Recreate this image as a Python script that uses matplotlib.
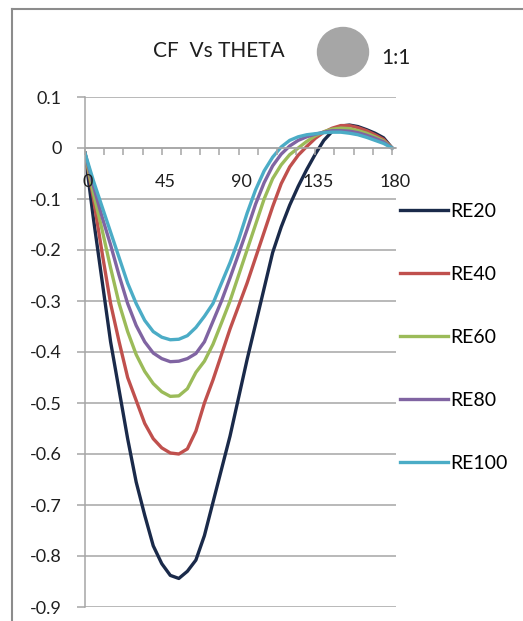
import matplotlib
matplotlib.use("Agg")
import matplotlib.pyplot as plt
import matplotlib.transforms as mtransforms
from matplotlib.patches import Ellipse
from matplotlib.lines import Line2D

plt.rcParams["font.family"] = ["Lato", "DejaVu Sans"]

theta = [0, 5, 10, 15, 20, 25, 30, 35, 40, 45, 50, 55, 60, 65, 70, 75, 80, 85, 90,
         95, 100, 105, 110, 115, 120, 125, 130, 135, 140, 145, 150, 155, 160, 165,
         170, 175, 180]

re20 = [-0.01, -0.14, -0.26, -0.38, -0.475, -0.57, -0.655, -0.72, -0.78, -0.815,
        -0.838, -0.844, -0.83, -0.808, -0.76, -0.695, -0.63, -0.565, -0.49, -0.415,
        -0.345, -0.275, -0.205, -0.155, -0.112, -0.075, -0.042, -0.012, 0.015,
        0.033, 0.043, 0.045, 0.042, 0.036, 0.029, 0.02, 0.0]
re40 = [-0.01, -0.1, -0.205, -0.305, -0.38, -0.45, -0.495, -0.54, -0.57, -0.588,
        -0.598, -0.6, -0.59, -0.555, -0.5, -0.455, -0.405, -0.355, -0.31, -0.265,
        -0.215, -0.165, -0.115, -0.07, -0.037, -0.014, 0.003, 0.019, 0.031, 0.039,
        0.044, 0.044, 0.04, 0.034, 0.026, 0.017, 0.0]
re60 = [-0.01, -0.09, -0.16, -0.235, -0.305, -0.36, -0.405, -0.438, -0.462, -0.478,
        -0.487, -0.486, -0.472, -0.44, -0.418, -0.385, -0.343, -0.3, -0.25, -0.2,
        -0.15, -0.1, -0.06, -0.033, -0.013, 0.0, 0.013, 0.024, 0.032, 0.037, 0.039,
        0.038, 0.034, 0.029, 0.022, 0.014, 0.0]
re80 = [-0.01, -0.075, -0.135, -0.19, -0.25, -0.305, -0.348, -0.38, -0.402, -0.413,
        -0.419, -0.418, -0.413, -0.403, -0.38, -0.34, -0.3, -0.255, -0.208, -0.16,
        -0.11, -0.068, -0.035, -0.012, 0.004, 0.015, 0.022, 0.027, 0.031, 0.034,
        0.034, 0.033, 0.03, 0.025, 0.019, 0.012, 0.0]
re100 = [-0.01, -0.065, -0.115, -0.165, -0.215, -0.265, -0.305, -0.338, -0.36,
         -0.371, -0.376, -0.375, -0.368, -0.352, -0.33, -0.305, -0.265, -0.225,
         -0.18, -0.128, -0.082, -0.045, -0.018, 0.002, 0.015, 0.022, 0.026, 0.028,
         0.03, 0.031, 0.031, 0.029, 0.026, 0.021, 0.015, 0.009, 0.0]

series = [re20, re40, re60, re80, re100]
labels = ["RE20", "RE40", "RE60", "RE80", "RE100"]
colors = ["#1a2a4a", "#c0504d", "#9bbb59", "#8064a2", "#4bacc6"]

x_ticks = [i * 11.25 for i in range(17)]
x_labels = [str(int(t)) if t % 45 == 0 else "" for t in x_ticks]
y_ticks = [0.1, 0, -0.1, -0.2, -0.3, -0.4, -0.5, -0.6, -0.7, -0.8, -0.9]
y_labels = ["0.1", "0", "-0.1", "-0.2", "-0.3", "-0.4", "-0.5", "-0.6", "-0.7",
            "-0.8", "-0.9"]

W, H = 523, 621
fig = plt.figure(figsize=(W / 100, H / 100), dpi=100)
ax = fig.add_axes([85 / W, 1 - 607 / H, 311 / W, 510 / H])

for vals, lab, col in zip(series, labels, colors):
    ax.plot(theta, vals, color=col, lw=2.4, label=lab, solid_joinstyle="round")

grey = "#a6a6a6"
ax.set_xlim(0, 182.3)
ax.set_ylim(-0.9, 0.1)
ax.set_yticks(y_ticks)
ax.set_yticklabels(y_labels)
ax.set_xticks(x_ticks)
ax.set_xticklabels(x_labels)
ax.grid(axis="y", color=grey, lw=1.1)
ax.set_axisbelow(True)
# category labels sit on top of the curves
ax.xaxis.set_zorder(3)

for s in ["top", "right"]:
    ax.spines[s].set_visible(False)
ax.spines["bottom"].set_position(("data", 0))
ax.spines["bottom"].set_color(grey)
ax.spines["left"].set_color(grey)
ax.spines["bottom"].set_linewidth(1.1)
ax.spines["left"].set_linewidth(1.1)

ax.tick_params(axis="y", length=5.8, width=1.1, color=grey, pad=11,
               labelsize=13, labelcolor="#1f1f1f")
ax.tick_params(axis="x", length=5, width=1.1, color=grey, pad=14,
               labelsize=13, labelcolor="#1f1f1f")
shift = mtransforms.ScaledTranslation(3 / 100, 0, fig.dpi_scale_trans)
for t in ax.get_xticklabels():
    t.set_transform(t.get_transform() + shift)

# legend to the right of the plot
ax.legend(loc="upper left", bbox_to_anchor=(400 / W, 1 - 203 / H),
          bbox_transform=fig.transFigure, frameon=False, fontsize=14,
          handlelength=2.45, handletextpad=0.15, labelspacing=2.36,
          borderaxespad=0, borderpad=0)

fig.text(219 / W, 1 - 51 / H, "CF  Vs THETA", ha="center", va="center",
         fontsize=15, color="#1f1f1f")
fig.add_artist(Ellipse((343 / W, 1 - 52 / H), 51 / W, 49 / H,
                       transform=fig.transFigure, color="#a6a6a6"))
fig.text(381 / W, 1 - 58 / H, "1:1", ha="left", va="center", fontsize=15,
         color="#1f1f1f")

# chart frame
fig.add_artist(Line2D([12 / W, 12 / W], [0, 1 - 9 / H], transform=fig.transFigure,
                      color="#8c8c8c", lw=1.5))
fig.add_artist(Line2D([12 / W, 1], [1 - 9 / H, 1 - 9 / H], transform=fig.transFigure,
                      color="#8c8c8c", lw=1.5))

fig.savefig("out.png", dpi=100, facecolor="white")
